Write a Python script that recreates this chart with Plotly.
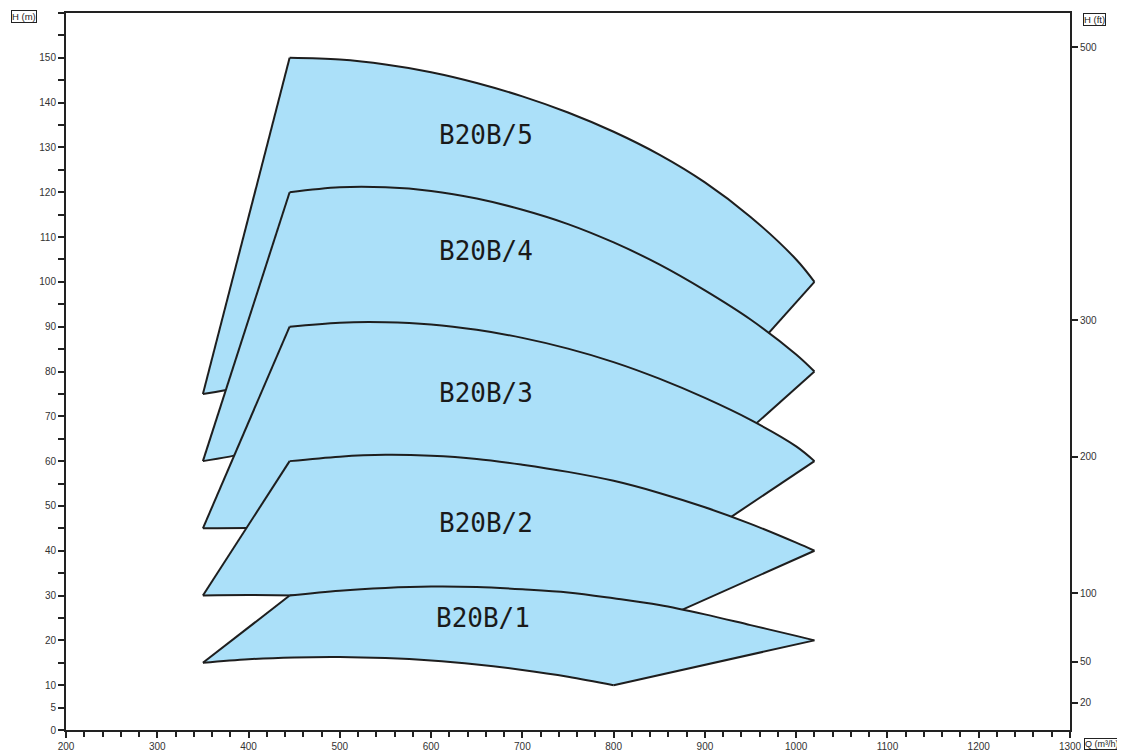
import plotly.graph_objects as go

# ---- data ----
Q_TOP = [445, 500, 550, 600, 650, 700, 750, 800, 850, 900, 950, 1000, 1020]
Q_BOT = [350, 400, 450, 500, 550, 600, 650, 700, 750, 800]

H_TOP_1 = [30, 31.1, 31.7, 32.0, 31.9, 31.4, 30.7, 29.4, 27.9, 25.8, 23.4, 21.0, 20]
H_TOP_2 = [60, 61.0, 61.4, 61.2, 60.5, 59.2, 57.6, 55.6, 52.9, 49.7, 46.0, 41.8, 40]
H_TOP_3 = [90, 90.9, 91.0, 90.5, 89.3, 87.5, 85.1, 82.1, 78.4, 74.1, 69.2, 63.3, 60]
H_TOP_4 = [120, 121.1, 121.1, 120.3, 118.6, 116.1, 112.9, 108.8, 103.9, 98.1, 91.6, 83.8, 80]
H_TOP_5 = [150, 149.6, 148.5, 146.8, 144.4, 141.4, 137.8, 133.5, 128.4, 122.2, 114.5, 105.0, 100]

H_BOT_1 = [15, 15.8, 16.2, 16.3, 16.05, 15.5, 14.6, 13.4, 11.9, 10]
H_BOT_2 = [30, 30.1, 30.0, 29.6, 29.0, 28.2, 27.0, 25.5, 23.2, 20]
H_BOT_3 = [45, 45.1, 45.0, 44.5, 43.5, 42.0, 40.0, 37.5, 34.2, 30]
H_BOT_4 = [60, 61.9, 64.8, 65.2, 64.2, 62.0, 58.4, 53.6, 47.6, 40]
H_BOT_5 = [75, 77.0, 81.0, 81.5, 80.2, 77.5, 73.0, 67.0, 59.5, 50]

MODELS = ["B20B/5", "B20B/4", "B20B/3", "B20B/2", "B20B/1"]
TOPS = [H_TOP_5, H_TOP_4, H_TOP_3, H_TOP_2, H_TOP_1]
BOTS = [H_BOT_5, H_BOT_4, H_BOT_3, H_BOT_2, H_BOT_1]
LABEL_Q = [660, 660, 660, 660, 657]
LABEL_H = [132.8, 107.0, 75.2, 46.2, 25.0]

X_MAJOR = list(range(200, 1301, 100))
Y_MAJOR = [0, 5, 10, 20, 30, 40, 50, 60, 70, 80, 90, 100, 110, 120, 130, 140, 150, 160]
Y_MINOR = [15, 25, 35, 45, 55, 65, 75, 85, 95, 105, 115, 125, 135, 145, 155]
FT_TICKS = [20, 50, 100, 200, 300, 500]
M_PER_FT = 0.3048

FILL = "#abe0f9"
EDGE = "#1e1e1e"
AX = "#222222"
TICKFONT = dict(family="Liberation Sans, Arial", size=10, color="#333333")

fig = go.Figure()
for name, top, bot in zip(MODELS, TOPS, BOTS):
    xs = [Q_BOT[0]] + Q_TOP + Q_BOT[::-1]
    ys = [bot[0]] + top + bot[::-1]
    # filled area (no outline)
    fig.add_trace(go.Scatter(x=xs, y=ys, mode="lines", fill="toself",
                             fillcolor=FILL, line=dict(width=0, color=FILL),
                             name=name, showlegend=False, hoverinfo="name"))
    edge = dict(color=EDGE, width=2)
    # top curve (smooth)
    fig.add_trace(go.Scatter(x=Q_TOP, y=top, mode="lines",
                             line=dict(shape="spline", smoothing=1.0, **edge),
                             showlegend=False, hoverinfo="skip"))
    # bottom curve (smooth)
    fig.add_trace(go.Scatter(x=Q_BOT, y=bot, mode="lines",
                             line=dict(shape="spline", smoothing=1.0, **edge),
                             showlegend=False, hoverinfo="skip"))
    # straight left and right edges
    fig.add_trace(go.Scatter(x=[Q_BOT[0], Q_TOP[0]], y=[bot[0], top[0]], mode="lines",
                             line=edge, showlegend=False, hoverinfo="skip"))
    fig.add_trace(go.Scatter(x=[Q_TOP[-1], Q_BOT[-1]], y=[top[-1], bot[-1]], mode="lines",
                             line=edge, showlegend=False, hoverinfo="skip"))

# invisible trace to activate right axis
fig.add_trace(go.Scatter(x=[None], y=[None], yaxis="y2", showlegend=False))

for name, qx, hy in zip(MODELS, LABEL_Q, LABEL_H):
    fig.add_annotation(x=qx, y=hy, xref="x", yref="y", text=name, showarrow=False,
                       font=dict(family="DejaVu Sans Mono", size=26, color="#1a1a1a"))

box = dict(showarrow=False, xref="paper", yref="paper", xanchor="center", yanchor="middle",
           bordercolor=AX, borderwidth=1, borderpad=0,
           font=dict(family="Liberation Sans, Arial", size=9.5, color="#222"))
fig.add_annotation(text="H (m)", x=-0.0423, y=0.9958, **box)
fig.add_annotation(text="H (ft)", x=1.0244, y=0.9909, **box)
box_q = dict(box)
box_q["font"] = dict(family="Liberation Sans, Arial", size=9, color="#222")
fig.add_annotation(text="Q (m³/h)", x=1.0319, y=-0.0195, **box_q)

# page body has an 8px margin: figure starts at (8, 8)
fig.update_layout(
    width=1117, height=746,
    margin=dict(l=58, r=55, t=5, b=24, autoexpand=False),
    plot_bgcolor="white", paper_bgcolor="white",
    xaxis=dict(range=[200, 1300], tickmode="array", tickvals=X_MAJOR, automargin=False,
               ticks="outside", ticklen=6, tickcolor=AX, tickwidth=1.5,
               minor=dict(dtick=20, tick0=200, ticks="outside", ticklen=5, tickcolor=AX, tickwidth=1.5, showgrid=False),
               showline=True, linecolor=AX, linewidth=2, mirror=True,
               showgrid=False, zeroline=False, tickfont=TICKFONT),
    yaxis=dict(range=[0, 160], tickmode="array", tickvals=Y_MAJOR, automargin=False,
               ticks="outside", ticklen=6, tickcolor=AX, tickwidth=1.5,
               minor=dict(tickmode="array", tickvals=Y_MINOR, ticks="outside", ticklen=6,
                          tickcolor=AX, tickwidth=1.5, showgrid=False),
               showline=True, linecolor=AX, linewidth=2, mirror=True,
               showgrid=False, zeroline=False, tickfont=TICKFONT),
    yaxis2=dict(range=[0, 160 / M_PER_FT], overlaying="y", side="right", automargin=False,
                tickmode="array", tickvals=FT_TICKS, ticks="outside", ticklen=6,
                tickcolor=AX, tickwidth=1.5, showline=True, linecolor=AX, linewidth=2,
                showgrid=False, zeroline=False, tickfont=TICKFONT),
)

fig.write_html("out.html")
